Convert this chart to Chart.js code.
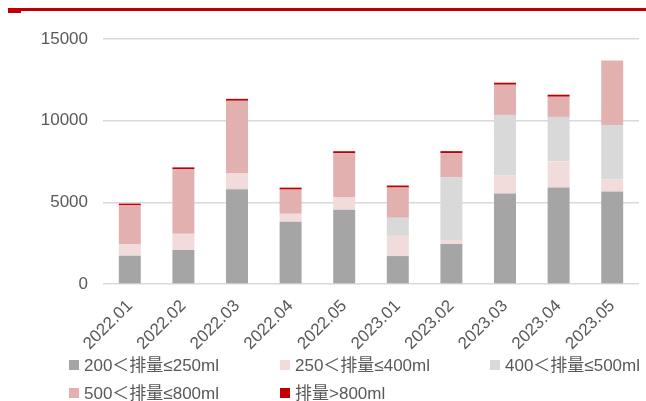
<!DOCTYPE html>
<html>
<head>
<meta charset="utf-8">
<script src="https://cdn.jsdelivr.net/npm/chart.js@4"></script>
<style>
  body { margin: 0; background: #fff; }
  #wrap { position: relative; width: 646px; height: 401px; overflow: hidden; }
  #topline { position: absolute; left: 8px; top: 8px; width: 638px; height: 3px; background: #C00000; }
  #toptab { position: absolute; left: 8px; top: 8px; width: 13px; height: 5px; background: #C00000; }
  .lg { position: absolute; font: 17px "Liberation Sans", "Noto Sans CJK SC", sans-serif; color: #595959; white-space: nowrap; line-height: 20px; }
  .lg span { display: inline-block; width: 10px; height: 10px; margin-right: 5px; vertical-align: 1px; }
</style>
</head>
<body>
<div id="wrap">
  <canvas id="chart" width="646" height="401"></canvas>
  <div id="topline"></div>
  <div id="toptab"></div>
  <div id="legend"></div>
</div>
<script>
// categories
const months = ["2022.01", "2022.02", "2022.03", "2022.04", "2022.05",
                "2023.01", "2023.02", "2023.03", "2023.04", "2023.05"];

// series (stacked)
const cc200_250 = [1730, 2080, 5800, 3810, 4550, 1710, 2450, 5540, 5910, 5660];
const cc250_400 = [720, 990, 970, 490, 740, 1235, 250, 1110, 1600, 740];
const cc400_500 = [0, 0, 0, 0, 0, 1110, 3830, 3700, 2720, 3335];
const cc500_800 = [2365, 3950, 4445, 1480, 2715, 1850, 1480, 1850, 1235, 3950];
const cc800up   = [105, 120, 120, 120, 125, 125, 125, 125, 125, 0];

const seriesNames = ["200＜排量≤250ml", "250＜排量≤400ml", "400＜排量≤500ml",
                     "500＜排量≤800ml", "排量>800ml"];
const colors = ["#A5A5A5", "#F2DCDB", "#D9D9D9", "#E2B1AF", "#C00000"];
const yTicks = [0, 5000, 10000, 15000];

const font = { family: '"Liberation Sans", "Noto Sans CJK SC", sans-serif', size: 17 };
const allData = [cc200_250, cc250_400, cc400_500, cc500_800, cc800up];

new Chart(document.getElementById("chart"), {
  type: "bar",
  data: {
    labels: months,
    datasets: allData.map((d, i) => ({
      label: seriesNames[i],
      data: d,
      backgroundColor: colors[i],
      categoryPercentage: 1,
      barPercentage: 0.41,
    })),
  },
  options: {
    responsive: false,
    animation: false,
    layout: { padding: { left: 0, right: 7, top: 39, bottom: 0 } },
    plugins: { legend: { display: false }, tooltip: { enabled: false } },
    scales: {
      x: {
        stacked: true,
        grid: { display: false },
        border: { display: false },
        ticks: { color: "#595959", font: font, minRotation: 45, maxRotation: 45, padding: 4 },
        afterFit: (s) => { s.height = 401 - 284; },
      },
      y: {
        stacked: true,
        min: 0,
        max: 15000,
        afterBuildTicks: (s) => { s.ticks = yTicks.map((v) => ({ value: v })); },
        grid: { color: "#D9D9D9", lineWidth: 1.5, drawTicks: false },
        border: { display: false },
        ticks: { color: "#595959", font: font, padding: 15, callback: (v) => String(v) },
        afterFit: (s) => { s.width = 103; },
      },
    },
  },
});

// legend
const pos = [[69, 356], [280, 356], [490, 356], [69, 384], [280, 384]];
const legend = document.getElementById("legend");
seriesNames.forEach((name, i) => {
  const el = document.createElement("div");
  el.className = "lg";
  el.style.left = pos[i][0] + "px";
  el.style.top = pos[i][1] + "px";
  el.innerHTML = `<span style="background:${colors[i]}"></span>${name}`;
  legend.appendChild(el);
});
</script>
</body>
</html>
